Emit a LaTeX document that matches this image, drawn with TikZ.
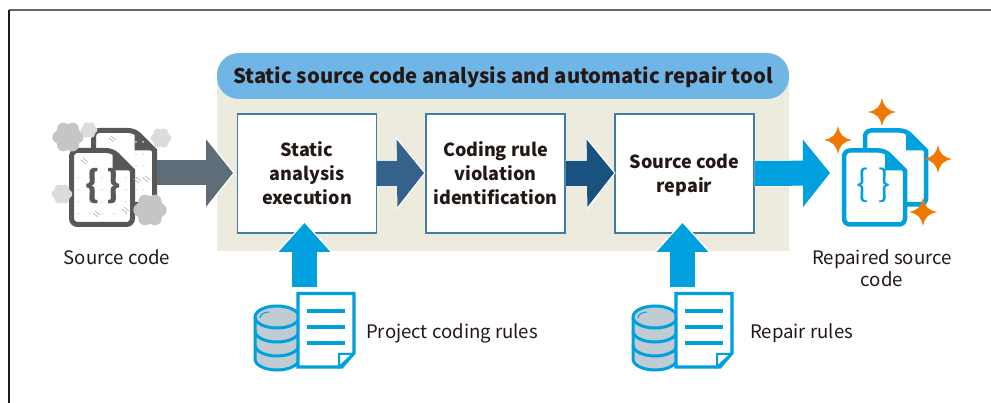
\documentclass[tikz,border=0pt]{standalone}
\usepackage{fontspec}
\setmainfont{Noto Sans CJK JP}
\usetikzlibrary{arrows.meta}
\definecolor{inkcol}{HTML}{231815}
\definecolor{beigecol}{HTML}{EDEBDE}
\definecolor{pillcol}{HTML}{6FB5E5}
\definecolor{boxcol}{HTML}{3F7CA8}
\definecolor{bluecol}{HTML}{009FDE}
\definecolor{orangecol}{HTML}{EE7800}
\definecolor{darkdoc}{HTML}{595757}
\definecolor{cloudA}{HTML}{C4C6C5}
\definecolor{cloudB}{HTML}{DBDDDC}
\definecolor{dbcol}{HTML}{BFCCD4}
\definecolor{arrowA}{HTML}{5F6D78}
\definecolor{arrowB}{HTML}{36618A}
\definecolor{arrowC}{HTML}{1A527F}
\tikzset{
    stepbox/.style={draw=boxcol,line width=1.2pt,fill=white,minimum width=139pt,minimum height=119pt,
        align=center,text=inkcol,font=\fontsize{18}{24}\selectfont\bfseries},
    label/.style={text=inkcol,align=center,font=\fontsize{18.6}{22}\selectfont},
    blockarrow/.style={line width=25pt,-{Triangle[length=27pt,width=66pt]},
        preaction={draw=white,line width=26pt,-{Triangle[length=29pt,width=72pt]},shorten >=-1.5pt}},
    uparrow/.style={line width=25pt,draw=bluecol,-{Triangle[length=29pt,width=50pt]},
        preaction={draw=white,line width=26pt,-{Triangle[length=31pt,width=56pt]},shorten >=-1.5pt}}
}
\begin{document}
\begin{tikzpicture}[x=1pt,y=-1pt]
\useasboundingbox (0,0) rectangle (991,403);

%draw frame
    \draw[line width=1.2pt,black!60] (9,10) -- (991,10);
    \draw[line width=1.2pt,inkcol] (9,10) -- (9,403);

%draw tool panel
    \fill[beigecol] (217,75) rectangle (789,251);
    \node (title) [fill=pillcol,rounded corners=22pt,minimum width=572pt,minimum height=46pt,text=inkcol,
        text height=18pt,text depth=2pt,font=\fontsize{20.25}{24}\selectfont\bfseries] at (503,76)
        {Static source code analysis and automatic repair tool};

%draw steps
    \node (analysis) [stepbox] at (307,173.5) {Static\\analysis\\execution};
    \node (violation) [stepbox] at (495.5,173.5) {Coding rule\\violation\\identification};
    \node (repair) [stepbox] at (684.5,173.5) {\rule{0pt}{18pt}Source code\\repair};

%draw document icons
    \foreach \x/\y/\col/\w in {93.5/130.5/darkdoc/5,71.5/150.5/darkdoc/5,865/130.5/bluecol/4.5,844/150.5/bluecol/4.5}{
        \draw[draw=\col,line width=\w pt,fill=white,rounded corners=6pt] (\x,\y) -- (\x+41,\y) [sharp corners] -- (\x+61,\y+20)
            [rounded corners=6pt] -- (\x+61,\y+74) -- (\x,\y+74) -- cycle;
        \fill[\col] (\x+41,\y) -- (\x+61,\y+20) -- (\x+41,\y+20) -- cycle;
    }

%draw dots on the grey documents
    \foreach \x in {0,12,...,48}
    \foreach \y in {28,40,...,64}
    \fill[cloudB] (\x+78,\y+150) circle (1pt);
    \foreach \x in {52,59}
    \foreach \y in {0,12,...,48}
    \fill[cloudB] (\x+84,\y+142) circle (1pt);
    \foreach \x/\y in {81/160,109/138,134/179,143/178,93/213,122/209}
    \draw[black!30,line width=.6pt] (\x,\y) -- (\x+5,\y+4) (\x+2,\y-2) -- (\x+7,\y+2);

%draw braces
    \node (srcbrace) [text=darkdoc,font=\fontsize{36}{36}\selectfont\bfseries] at (103.5,186) {\{\hspace{7pt}\}};
    \node (fixbrace) [text=bluecol,font=\fontsize{36}{36}\selectfont] at (873.5,185) {\{\hspace{9pt}\}};

%draw clouds
    \foreach \x/\y/\r/\col in {68/137/15/cloudA,89/130/8/cloudB,161/138/10/cloudB,62/194/10/cloudB,150/210/16/cloudA}{
        \fill[\col] (\x,\y) circle (.88*\r pt);
        \foreach \a in {0,60,...,300}
        \fill[\col] ({\x+.62*\r*cos(\a)},{\y+.62*\r*sin(\a)}) circle (.42*\r pt);
    }

%draw stars
    \foreach \x/\y in {882/112,838/140,938/159,923/212}
    \fill[orangecol,shift={(\x,\y)}] (0,-14) .. controls (2,-5) and (5,-2) .. (14,0) .. controls (5,2) and (2,5) .. (0,14)
        .. controls (-2,5) and (-5,2) .. (-14,0) .. controls (-5,-2) and (-2,-5) .. (0,-14) -- cycle;

%draw database and rules icons
    \foreach \dx in {0,378}{
        \begin{scope}[xshift=\dx pt]
        \draw[draw=bluecol,fill=dbcol,line width=3pt] (255,317) -- (255,359) arc[start angle=180,end angle=0,x radius=22,y radius=11]
            -- (299,317) arc[start angle=0,end angle=-180,x radius=22,y radius=11];
        \foreach \y in {317,331,345}
        \draw[draw=bluecol,line width=3pt] (255,\y) arc[start angle=180,end angle=0,x radius=22,y radius=11];
        \draw[draw=bluecol,line width=1pt] (260,318) arc[start angle=180,end angle=270,x radius=9,y radius=6];
        \draw[draw=bluecol,fill=white,line width=3.2pt] (298,293.5) -- (354,293.5) -- (354,353) -- (342,367) -- (298,367) -- cycle;
        \draw[draw=bluecol,fill=white,line width=2pt] (339,367) -- (339,354) -- (353,354) -- cycle;
        \foreach \y in {311,327,343}
        \draw[draw=bluecol,line width=4pt] (307,\y) -- (345,\y);
        \end{scope}
    }

%draw arrows
    \coordinate (srcdoc) at (157,173);
    \coordinate (fixdoc) at (830,173);
    \coordinate (rulesA) at (304.5,287);
    \coordinate (tipA) at (304.5,223);
    \coordinate (rulesB) at (682.5,287);
    \coordinate (tipB) at (682.5,223);
    \draw[blockarrow,draw=arrowA] (srcdoc) -- (233,173);
    \draw[blockarrow,draw=arrowB] (analysis.east) -- (424,173);
    \draw[blockarrow,draw=arrowC] (violation.east) -- (614,173);
    \draw[blockarrow,draw=bluecol] (repair.east) -- (fixdoc);
    \draw[uparrow] (rulesA) -- (tipA);
    \draw[uparrow] (rulesB) -- (tipB);

%draw labels
    \node (srclabel) [label] at (117,257) {Source code};
    \node (fixlabel) [label] at (882,268) {Repaired source\\code};
    \node (projlabel) [label,anchor=west,inner sep=0pt] at (366,333.5) {Project coding rules};
    \node (repairlabel) [label,anchor=west,inner sep=0pt] at (750,333.5) {Repair rules};
\end{tikzpicture}
\end{document}
